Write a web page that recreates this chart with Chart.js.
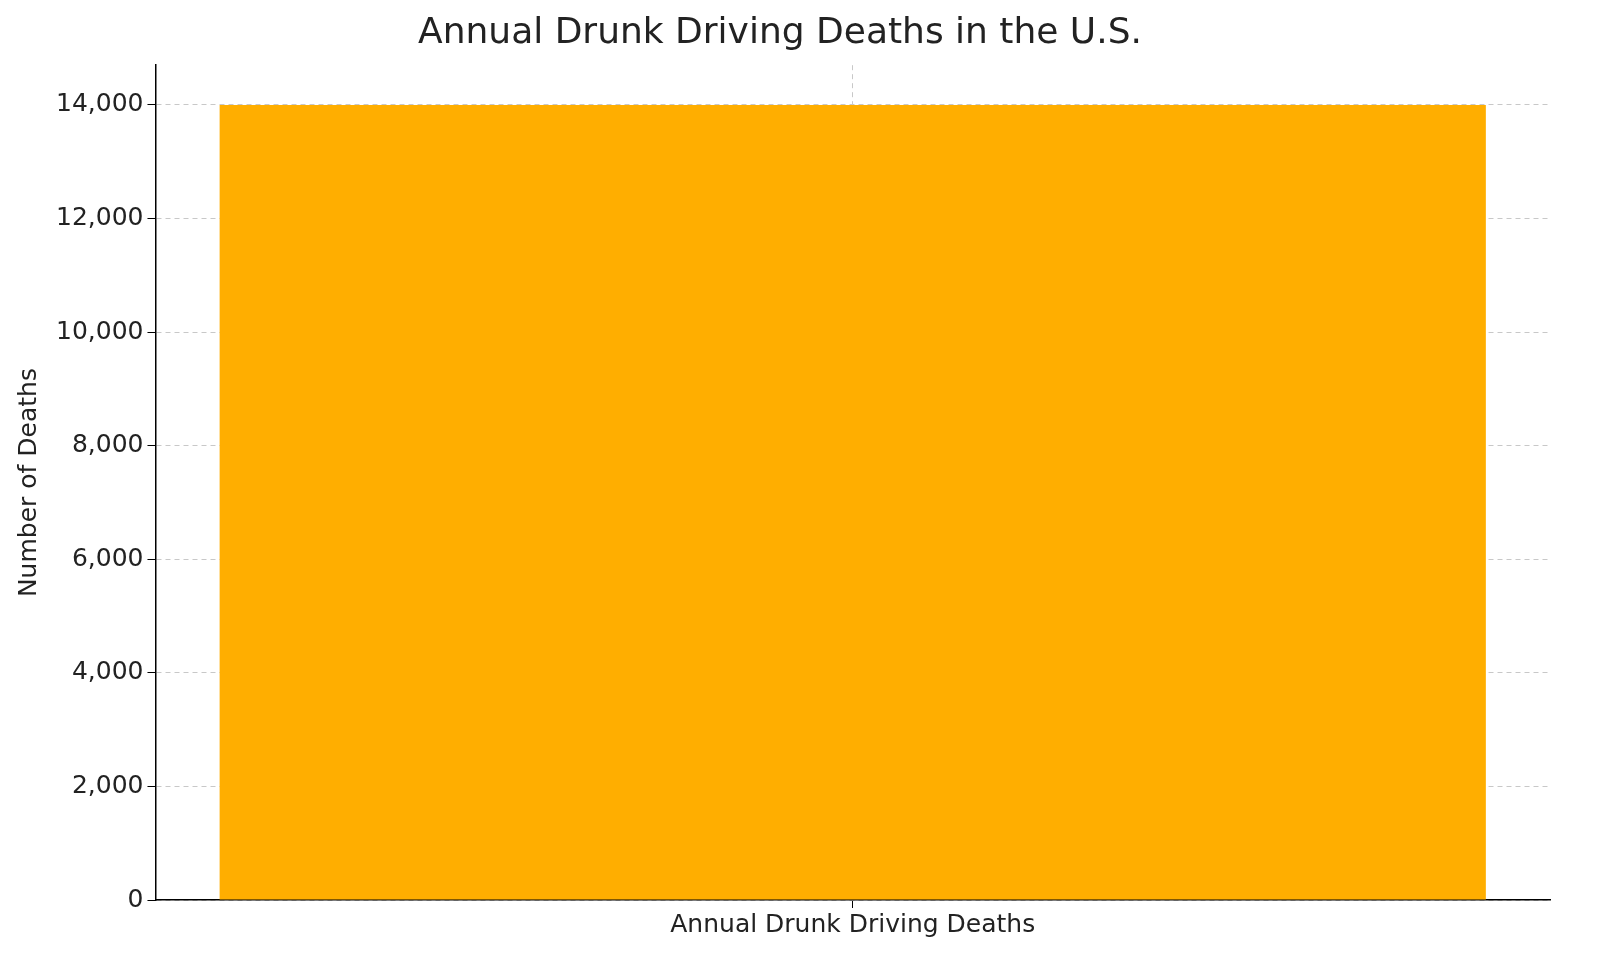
<!DOCTYPE html>
<html>
<head>
<meta charset="utf-8">
<script src="https://cdn.jsdelivr.net/npm/chart.js@4"></script>
<style>
  html, body { margin: 0; padding: 0; background: #fff; }
  #wrap { width: 1600px; height: 966px; }
</style>
</head>
<body>
<div id="wrap"><canvas id="chart"></canvas></div>
<script>
// Data
const categories = ['Annual Drunk Driving Deaths'];
const deaths = [14000];
const yTicks = [0, 2000, 4000, 6000, 8000, 10000, 12000, 14000];

Chart.defaults.font.family = 'DejaVu Sans';
Chart.defaults.color = '#222';

new Chart(document.getElementById('chart'), {
    type: 'bar',
    data: {
        labels: categories,
        datasets: [{
            data: deaths,
            backgroundColor: '#FFAE00',
            categoryPercentage: 1,
            barPercentage: 0.908
        }]
    },
    options: {
        responsive: true,
        maintainAspectRatio: false,
        animation: false,
        layout: { padding: { left: 10, right: 50, top: 0, bottom: 24 } },
        plugins: {
            legend: { display: false },
            tooltip: { enabled: false },
            title: {
                display: true,
                text: 'Annual Drunk Driving Deaths in the U.S.',
                font: { size: 36, weight: 'normal' },
                color: '#222',
                padding: { top: 12, bottom: 10 }
            }
        },
        scales: {
            x: {
                offset: true,
                grid: {
                    offset: false,
                    color: '#c8c8c8',
                    borderDash: [5, 4],
                    tickColor: '#000',
                    tickLength: 8
                },
                border: { color: '#000', width: 1.5, dash: [5, 4] },
                ticks: { font: { size: 25 }, color: '#222', padding: 2 }
            },
            y: {
                min: 0,
                max: 14700,
                afterBuildTicks: axis => {
                    axis.ticks = yTicks.map(v => ({ value: v }));
                },
                grid: {
                    color: '#c8c8c8',
                    tickColor: '#000',
                    tickLength: 8
                },
                border: { color: '#000', width: 1.5, dash: [5, 4] },
                ticks: { font: { size: 25 }, color: '#222', padding: 4 },
                title: {
                    display: true,
                    text: 'Number of Deaths',
                    font: { size: 25 },
                    color: '#222',
                    padding: { bottom: 8 }
                }
            }
        }
    },
    plugins: [{
        // dashed grid lines, solid axes
        id: 'dashGrid',
        beforeDraw(chart) {
            chart.scales.x.options.grid.borderDash = [5, 4];
        }
    }]
});
</script>
</body>
</html>
